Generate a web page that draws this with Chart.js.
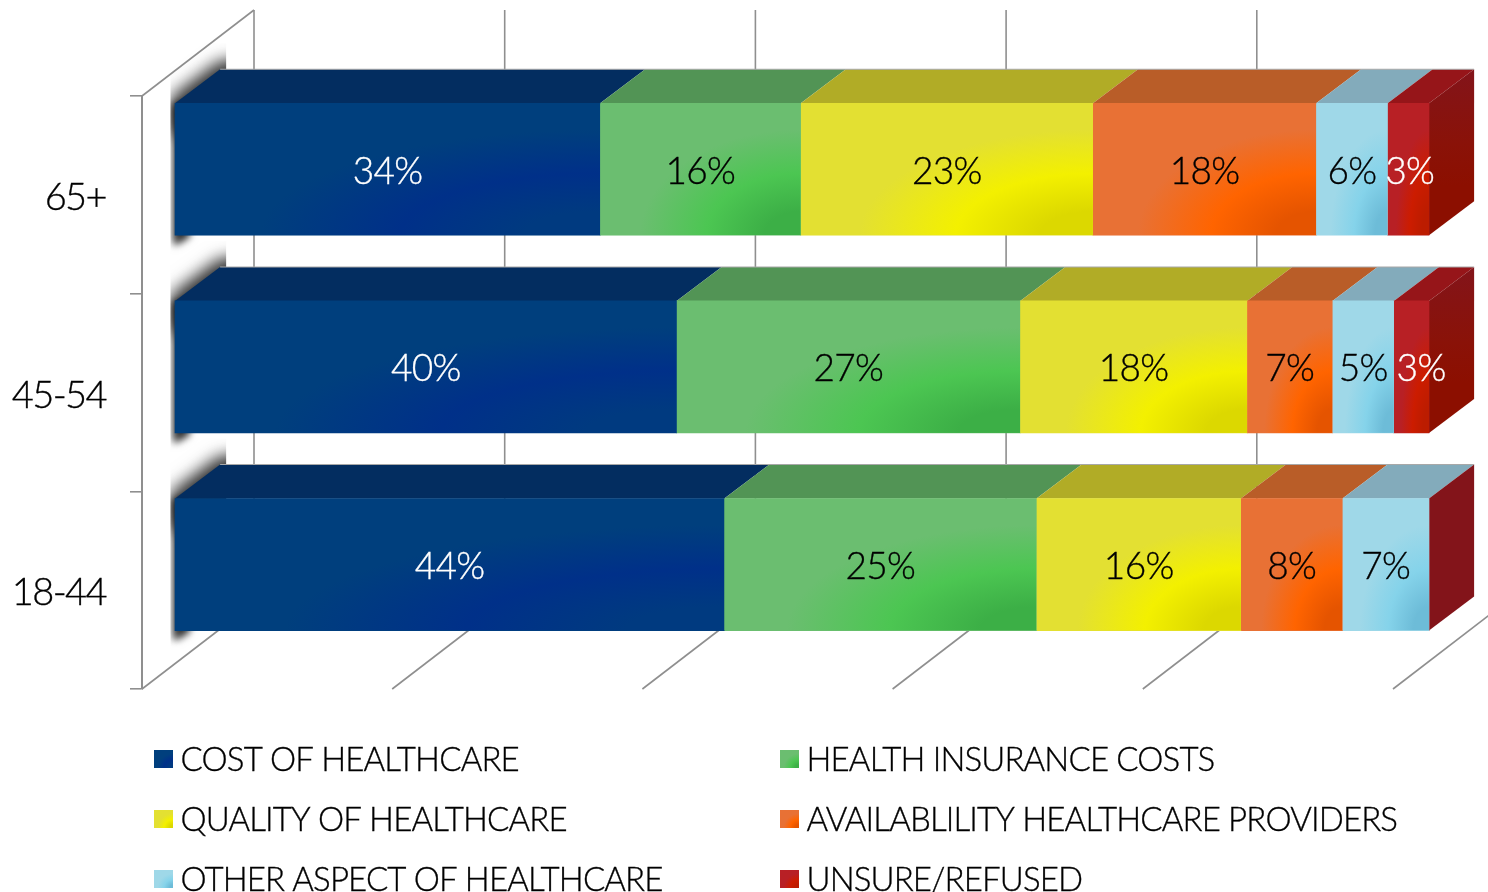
<!DOCTYPE html>
<html>
<head>
<meta charset="utf-8">
<style>html,body{margin:0;padding:0;background:#fff;overflow:hidden}canvas{display:block}</style>
<script src="https://cdn.jsdelivr.net/npm/chart.js@4/dist/chart.umd.min.js"></script>
</head>
<body>
<canvas id="c" width="1488" height="892"></canvas>
<script>
const categories = ['65+', '45-54', '18-44'];
const costOfHealthcare = [33.9, 40.0, 43.8];
const healthInsuranceCosts = [16.0, 27.4, 24.9];
const qualityOfHealthcare = [23.3, 18.1, 16.3];
const availabilityProviders = [17.8, 6.8, 8.1];
const otherAspect = [5.7, 4.9, 6.9];
const unsureRefused = [3.3, 2.8, 0];
const seriesNames = ['COST OF HEALTHCARE', 'HEALTH INSURANCE COSTS', 'QUALITY OF HEALTHCARE',
  'AVAILABLILITY HEALTHCARE PROVIDERS', 'OTHER ASPECT OF HEALTHCARE', 'UNSURE/REFUSED'];
const seriesValues = [costOfHealthcare, healthInsuranceCosts, qualityOfHealthcare,
  availabilityProviders, otherAspect, unsureRefused];
const xTicks = [0, 20, 40, 60, 80, 100];

const base = ['#003F7D', '#6BBE70', '#E3E032', '#E87135', '#9FD8E8', '#B82025'];
const glow = ['#003089', '#4CC652', '#F3F000', '#FF6400', '#85D3EA', '#CC1C00'];
const deep = ['#003A80', '#3CAF46', '#DCD800', '#E55400', '#6DBCD8', '#BC1C00'];
const topc = ['#032D60', '#529455', '#B1AC26', '#B95D28', '#83ABBB', '#961519'];
const labelc = ['#fff', '#000', '#000', '#000', '#000', '#fff'];
const FONT = 'Lato, "Open Sans", sans-serif';
const DX = 45, DY = 34, WALLX = 112, WALLY = 86, LINE = '#8f8f8f';
const BAR_LEFT = 175;

function poly(ctx, pts, fill) {
  ctx.beginPath();
  pts.forEach((p, i) => i ? ctx.lineTo(p[0], p[1]) : ctx.moveTo(p[0], p[1]));
  ctx.closePath();
  if (fill) { ctx.fillStyle = fill; ctx.fill(); }
}
function glowRect(ctx, i, x, y, w, h) {
  if (w <= 0) return;
  ctx.save();
  ctx.beginPath(); ctx.rect(x, y, w, h); ctx.clip();
  ctx.translate(x, y); ctx.scale(w, h);
  const g = ctx.createRadialGradient(1, 1, 0, 1, 1, 1);
  g.addColorStop(0, deep[i]);
  g.addColorStop(0.18, deep[i]);
  g.addColorStop(0.47, glow[i]);
  g.addColorStop(0.8, base[i]);
  g.addColorStop(1, base[i]);
  ctx.fillStyle = g;
  ctx.fillRect(0, 0, 1, 1);
  ctx.restore();
}
function strokedText(ctx, txt, x, y) {
  ctx.lineWidth = 0.35;
  ctx.strokeStyle = ctx.fillStyle;
  ctx.strokeText(txt, x, y);
  ctx.fillText(txt, x, y);
}
function softShape(ctx, pts, blur, scale) {
  const off = 3000;
  ctx.save();
  ctx.shadowColor = 'rgba(0,0,0,0.6)';
  ctx.shadowBlur = blur;
  ctx.shadowOffsetX = off * scale;
  poly(ctx, pts.map(p => [p[0] - off, p[1]]), '#000');
  ctx.restore();
}

const wall3d = {
  id: 'wall3d',
  beforeDraw(chart) { chart.ctx.letterSpacing = '-1.6px'; },
  beforeDatasetsDraw(chart) {
    const { ctx, chartArea: a, scales: { x } } = chart;
    ctx.save();
    ctx.strokeStyle = LINE; ctx.lineWidth = 1.6;
    xTicks.forEach(t => {
      const px = x.getPixelForValue(t);
      ctx.beginPath();
      ctx.moveTo(px, a.bottom); ctx.lineTo(px + WALLX, a.bottom - WALLY);
      ctx.stroke();
      if (t < 100) {
        const bx = a.left + WALLX + (px - a.left) * 1.002;
        ctx.beginPath();
        ctx.moveTo(bx, a.top - WALLY); ctx.lineTo(bx, a.bottom - WALLY);
        ctx.stroke();
      }
    });
    ctx.beginPath();
    ctx.moveTo(a.left, a.top); ctx.lineTo(a.left + WALLX, a.top - WALLY);
    ctx.stroke();
    ctx.restore();

    // bars are pushed into the middle of the wall depth
    const s = 1254 / a.width;
    ctx.save();
    ctx.translate(BAR_LEFT, -25.6);
    ctx.scale(s, 1);
    ctx.translate(-a.left, 0);

    const n = seriesValues.length;
    const first = chart.getDatasetMeta(0).data;
    const last = chart.getDatasetMeta(n - 1).data;
    first.forEach(el => {
      const y0 = el.y - el.height / 2, y1 = el.y + el.height / 2, l = el.base;
      ctx.save();
      ctx.beginPath(); ctx.rect(l - 4.5, y0 - 60, 55.5, el.height + 86); ctx.clip();
      const diag = [[l - 2, y0 - 5], [l + 46, y0 - 41], [l + 90, y0 - 41], [l + 90, y0 + 30], [l - 2, y0 + 30]];
      const side = [[l - 1, y0], [l + 14, y0], [l + 14, y1 + 1], [l - 1, y1 + 10]];
      softShape(ctx, diag, 20, s);
      softShape(ctx, diag, 15, s);
      softShape(ctx, side, 10, s);
      softShape(ctx, side, 7, s);
      ctx.restore();
    });
    seriesValues.forEach((vals, i) => {
      chart.getDatasetMeta(i).data.forEach(el => {
        const t = el.y - el.height / 2;
        if (el.x - el.base <= 0) return;
        poly(ctx, [[el.base, t], [el.base + DX, t - DY], [el.x + DX, t - DY], [el.x, t]], topc[i]);
      });
    });
    last.forEach((el, k) => {
      const t = el.y - el.height / 2, b = el.y + el.height / 2, r = el.x;
      let fill = '#83141A';
      if (unsureRefused[k] > 0) {
        const g = ctx.createLinearGradient(0, t - DY, 0, b);
        g.addColorStop(0, '#83141A'); g.addColorStop(0.45, '#8A1208'); g.addColorStop(0.7, '#8C0F00'); g.addColorStop(1, '#8C0F00');
        fill = g;
      }
      poly(ctx, [[r, t], [r + DX, t - DY], [r + DX, b - DY], [r, b]], fill);
    });
    ctx.strokeStyle = '#a8a8a8'; ctx.lineWidth = 1;
    first.forEach(el => {
      const t = el.y - el.height / 2 - DY;
      ctx.beginPath(); ctx.moveTo(el.base + DX, t); ctx.lineTo(last[0].x + DX, t); ctx.stroke();
    });
  },
  afterDatasetsDraw(chart) {
    const { ctx } = chart;
    seriesValues.forEach((vals, i) => {
      chart.getDatasetMeta(i).data.forEach(el => {
        glowRect(ctx, i, el.base, el.y - el.height / 2, el.x - el.base, el.height);
      });
    });
    ctx.restore();
    // value labels: centred on the segment, pushed right when they would touch the previous label
    const s = 1254 / chart.chartArea.width, left = chart.chartArea.left;
    ctx.save();
    ctx.font = '300 37px ' + FONT;
    ctx.letterSpacing = '-0.7px';
    ctx.textAlign = 'center'; ctx.textBaseline = 'middle';
    categories.forEach((c, k) => {
      let prevRight = -1e9;
      seriesValues.forEach((vals, i) => {
        if (vals[k] <= 0) return;
        const el = chart.getDatasetMeta(i).data[k];
        const txt = Math.round(vals[k]) + '%';
        const w = ctx.measureText(txt).width;
        let cx = BAR_LEFT + ((el.x + el.base) / 2 - left) * s;
        if (cx - w / 2 < prevRight + 9) cx = prevRight + 9 + w / 2;
        prevRight = cx + w / 2;
        ctx.fillStyle = labelc[i];
        strokedText(ctx, txt, cx, el.y - 25.6 + 2.5);
      });
    });
    ctx.restore();
  }
};

const legend2col = {
  id: 'legend2col',
  afterDraw(chart) {
    const { ctx } = chart;
    const colX = [154, 780], rowY = [759, 819, 879];
    ctx.save();
    ctx.textAlign = 'left'; ctx.textBaseline = 'middle';
    ctx.font = '300 33px ' + FONT;
    ctx.letterSpacing = '-0.85px';
    seriesNames.forEach((name, i) => {
      const x = colX[i % 2], y = rowY[Math.floor(i / 2)];
      ctx.fillStyle = base[i]; ctx.fillRect(x, y - 9, 19, 18);
      glowRect(ctx, i, x, y - 9, 19, 18);
      ctx.fillStyle = '#000';
      strokedText(ctx, name, x + 26.5, y + 1);
    });
    ctx.restore();
  }
};

new Chart(document.getElementById('c'), {
  type: 'bar',
  data: {
    labels: categories,
    datasets: seriesNames.map((name, i) => ({
      label: name, data: seriesValues[i], backgroundColor: base[i],
      borderWidth: 0, barThickness: 132, clip: false
    }))
  },
  options: {
    indexAxis: 'y',
    responsive: false,
    animation: false,
    layout: { padding: { top: 96, right: 95, bottom: 203, left: 0 } },
    plugins: { legend: { display: false }, tooltip: { enabled: false } },
    scales: {
      x: { stacked: true, min: 0, max: 100, display: false },
      y: {
        stacked: true,
        afterFit(scale) { scale.width = 142; },
        border: { color: LINE, width: 2 },
        grid: { drawOnChartArea: false, drawTicks: true, tickLength: 12, color: LINE, lineWidth: 1.6, offset: true },
        ticks: { color: '#000', padding: 24, labelOffset: 3, textStrokeColor: '#000', textStrokeWidth: 0.35, font: { family: FONT, size: 38, weight: '300' } }
      }
    }
  },
  plugins: [wall3d, legend2col]
});
</script>
</body>
</html>
